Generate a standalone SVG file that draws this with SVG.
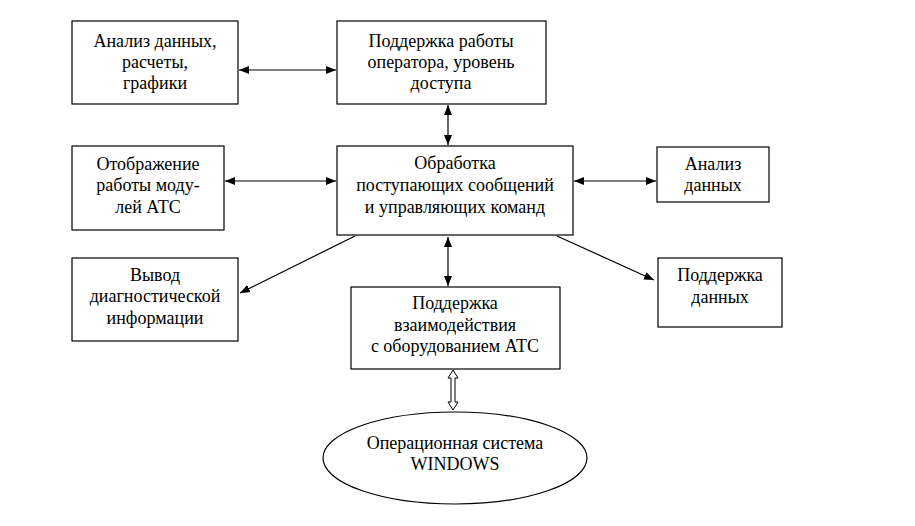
<svg xmlns="http://www.w3.org/2000/svg" width="915" height="526" viewBox="0 0 915 526">
<style>
.box{fill:#fff;stroke:#000;stroke-width:1.2}
.t{font-family:'Liberation Serif','DejaVu Serif',serif;font-size:18px;fill:#000;text-anchor:middle}
.c{stroke:#000;stroke-width:1.2;fill:none}
</style>
<defs>
<marker id="ah" viewBox="0 0 10 8" refX="10" refY="4" markerWidth="10" markerHeight="8" markerUnits="userSpaceOnUse" orient="auto-start-reverse">
<path d="M0,0 L10,4 L0,8 Z" fill="#000"/>
</marker>
</defs>
<rect width="915" height="526" fill="#fff"/>
<g id="connectors">
<line class="c" x1="239" y1="70" x2="336" y2="70" marker-start="url(#ah)" marker-end="url(#ah)"/>
<line class="c" x1="448" y1="105" x2="448" y2="145" marker-start="url(#ah)" marker-end="url(#ah)"/>
<line class="c" x1="225" y1="181" x2="336" y2="181" marker-start="url(#ah)" marker-end="url(#ah)"/>
<line class="c" x1="574" y1="181" x2="656" y2="181" marker-start="url(#ah)" marker-end="url(#ah)"/>
<line class="c" x1="448" y1="237" x2="448" y2="286" marker-start="url(#ah)" marker-end="url(#ah)"/>
<line class="c" x1="355" y1="236" x2="240" y2="293" marker-end="url(#ah)"/>
<line class="c" x1="557" y1="236" x2="654" y2="280" marker-end="url(#ah)"/>
<path d="M453,370 L458,378 L455,378 L455,402 L458,402 L453,410 L448,402 L451,402 L451,378 L448,378 Z" fill="#fff" stroke="#000" stroke-width="1"/>
</g>
<g id="n1"><rect class="box" x="72" y="21" width="166" height="83"/>
<text class="t" x="155" y="47">Анализ данных,</text><text class="t" x="155" y="68">расчеты,</text><text class="t" x="155" y="89">графики</text></g>
<g id="n2"><rect class="box" x="337" y="21" width="209" height="83"/>
<text class="t" x="441" y="47">Поддержка работы</text><text class="t" x="441" y="68">оператора, уровень</text><text class="t" x="441" y="89">доступа</text></g>
<g id="n3"><rect class="box" x="72" y="146" width="152" height="84"/>
<text class="t" x="148" y="170">Отображение</text><text class="t" x="148" y="191">работы моду-</text><text class="t" x="148" y="213">лей АТС</text></g>
<g id="n4"><rect class="box" x="337" y="146" width="236" height="89"/>
<text class="t" x="455" y="169">Обработка</text><text class="t" x="455" y="191">поступающих сообщений</text><text class="t" x="455" y="213">и управляющих команд</text></g>
<g id="n5"><rect class="box" x="657" y="147" width="112" height="55"/>
<text class="t" x="713" y="170">Анализ</text><text class="t" x="713" y="191">данных</text></g>
<g id="n6"><rect class="box" x="72" y="258" width="166" height="83"/>
<text class="t" x="155" y="281">Вывод</text><text class="t" x="155" y="302">диагностической</text><text class="t" x="155" y="324">информации</text></g>
<g id="n7"><rect class="box" x="351" y="287" width="209" height="82"/>
<text class="t" x="455" y="309">Поддержка</text><text class="t" x="455" y="331">взаимодействия</text><text class="t" x="455" y="352">с оборудованием АТС</text></g>
<g id="n8"><rect class="box" x="658" y="258" width="124" height="69"/>
<text class="t" x="720" y="281">Поддержка</text><text class="t" x="720" y="303">данных</text></g>
<g id="n9"><ellipse class="box" cx="455" cy="458" rx="132" ry="46"/>
<text class="t" x="455" y="449">Операционная система</text><text class="t" x="455" y="470">WINDOWS</text></g>
</svg>
